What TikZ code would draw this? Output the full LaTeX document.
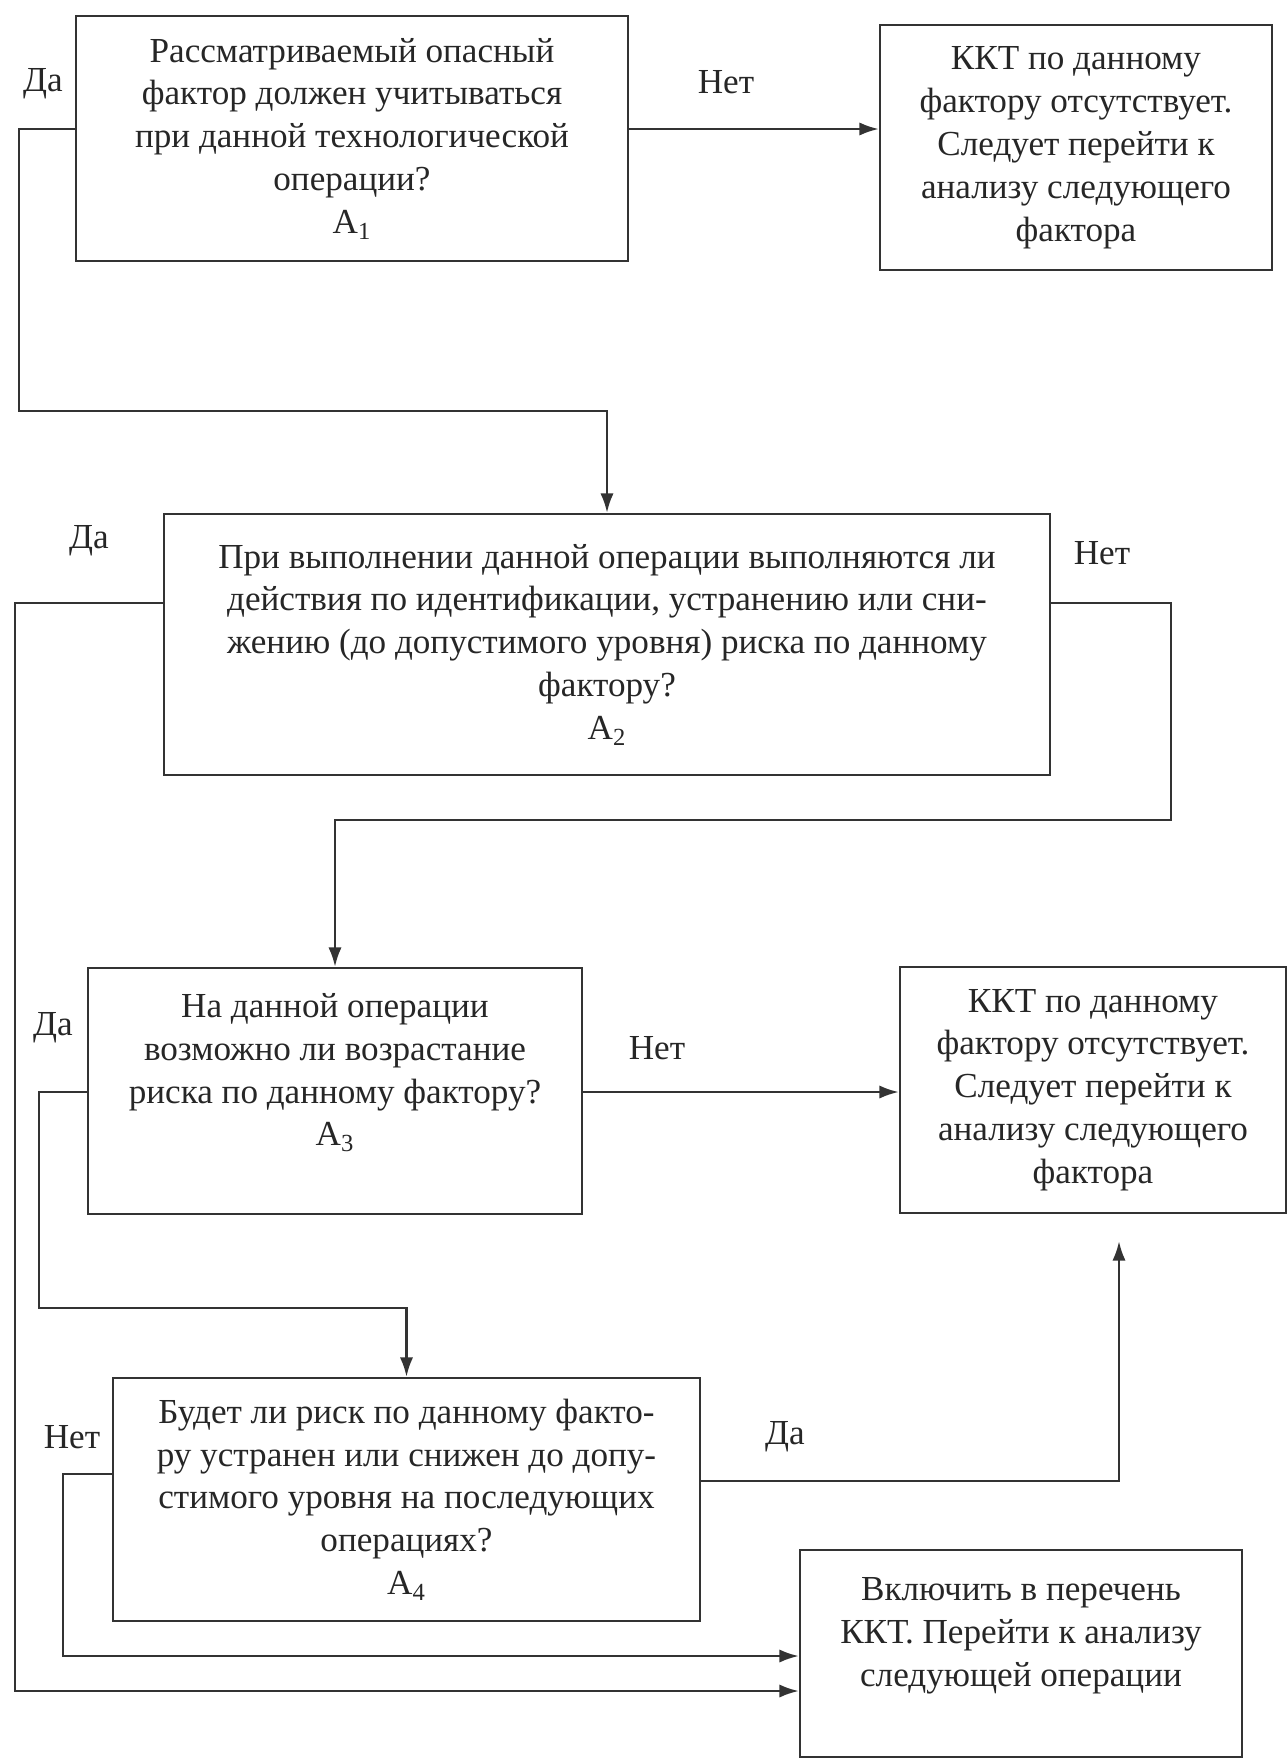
\documentclass[tikz,border=0pt]{standalone}
\usepackage{fontspec}
\setmainfont{Liberation Serif}
\usetikzlibrary{arrows.meta,positioning,calc}

\begin{document}
\begin{tikzpicture}[x=0.02cm, y=-0.02cm,
  every node/.style={font=\fontsize{20}{24.4}\selectfont, text=black!85},
  blk/.style={draw=black!80, line width=1.4pt, align=center, inner sep=0pt},
  lbl/.style={inner sep=0pt},
  arr/.style={draw=black!80, line width=1.4pt, -{Latex[length=11pt,width=7.5pt]}}]
\useasboundingbox (0,0) rectangle (1288,1759);

\node[blk, minimum width=11.04cm, minimum height=4.9cm] (A1) at (352,138.5)
  {Рассматриваемый опасный\\фактор должен учитываться\\при данной технологической\\операции?\\A\textsubscript{1}};
\node[blk, minimum width=7.84cm, minimum height=4.9cm] (K1) at (1076,147.5)
  {ККТ по данному\\фактору отсутствует.\\Следует перейти к\\анализу следующего\\фактора};
\node[blk, minimum width=17.72cm, minimum height=5.22cm] (A2) at (607,644.5)
  {При выполнении данной операции выполняются ли\\действия по идентификации, устранению или сни-\\жению (до допустимого уровня) риска по данному\\фактору?\\A\textsubscript{2}};
\node[blk, minimum width=9.88cm, minimum height=4.92cm] (A3) at (335,1091)
  {На данной операции\\возможно ли возрастание\\риска по данному фактору?\\A\textsubscript{3}\\~};
\node[blk, minimum width=7.72cm, minimum height=4.92cm] (K2) at (1093,1090)
  {ККТ по данному\\фактору отсутствует.\\Следует перейти к\\анализу следующего\\фактора};
\node[blk, minimum width=11.74cm, minimum height=4.86cm] (A4) at (406.5,1499.5)
  {Будет ли риск по данному факто-\\ру устранен или снижен до допу-\\стимого уровня на последующих\\операциях?\\A\textsubscript{4}};
\node[blk, minimum width=8.84cm, minimum height=4.14cm] (inc) at (1021,1653.5)
  {Включить в перечень\\ККТ. Перейти к анализу\\следующей операции\\~};

\node[lbl] (da1) at (43,84) {Да};
\node[lbl] (net1) at (726,82) {Нет};
\node[lbl] (da2) at (89,541) {Да};
\node[lbl] (net2) at (1102,553) {Нет};
\node[lbl] (da3) at (53,1028) {Да};
\node[lbl] (net3) at (657,1048) {Нет};
\node[lbl] (net4) at (72,1437) {Нет};
\node[lbl] (da4) at (785,1437) {Да};

\draw[arr] (A1.east |- 0,129) -- (K1.west |- 0,129);
\draw[arr] (A1.west |- 0,129) -| (19,411) -| (A2.north);
\draw[arr] (A2.west |- 0,603) -| (15,1691) -- (inc.west |- 0,1691);
\draw[arr] (A2.east |- 0,603) -| (1171,820) -| (A3.north);
\draw[arr] (A3.east |- 0,1092) -- (K2.west |- 0,1092);
\draw[arr] (A3.west |- 0,1092) -| (39,1308) -| (A4.north);
\draw[arr] (A4.east |- 0,1481) -| ($(K2.south -| 1119,0)+(0,27)$);
\draw[arr] (A4.west |- 0,1474) -| (63,1656) -- (inc.west |- 0,1656);
\end{tikzpicture}
\end{document}
